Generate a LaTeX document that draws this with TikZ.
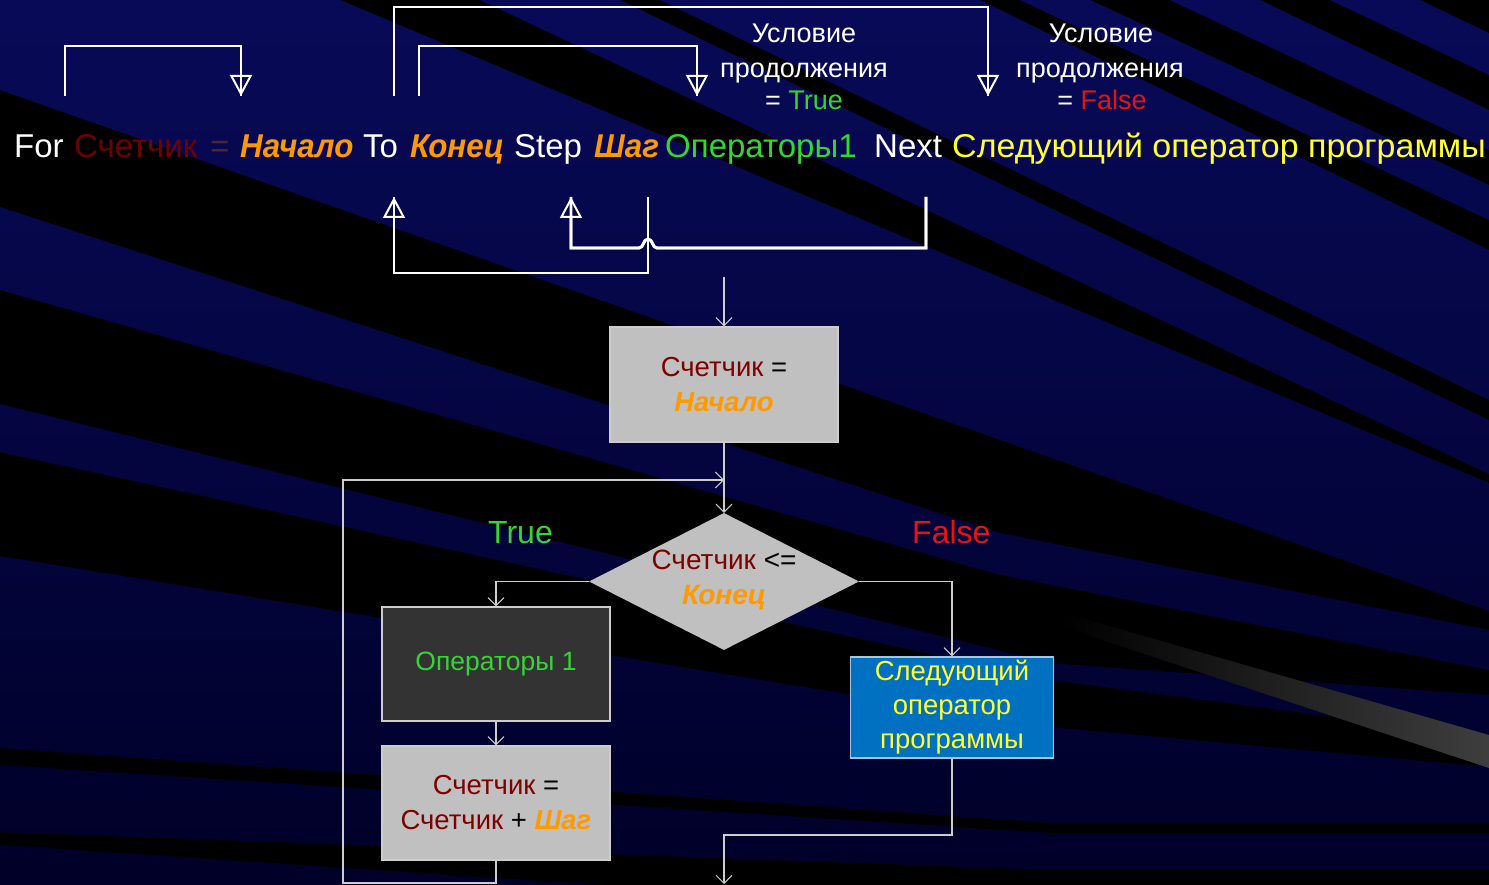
\documentclass[tikz,border=0pt]{standalone}
\usepackage{fontspec}
\setmainfont{Liberation Sans}
\usetikzlibrary{arrows.meta,shapes.geometric}
\definecolor{navyT}{RGB}{8,10,88}
\definecolor{navyB}{RGB}{0,0,40}
\definecolor{ctr}{RGB}{128,0,0}
\definecolor{ctrtop}{RGB}{112,0,0}
\definecolor{dimeq}{RGB}{80,40,40}
\definecolor{org}{RGB}{255,153,0}
\definecolor{grn}{RGB}{51,214,51}
\definecolor{ylw}{RGB}{255,255,51}
\definecolor{fls}{RGB}{228,20,20}
\definecolor{boxg}{RGB}{192,192,192}
\definecolor{boxd}{RGB}{51,51,51}
\definecolor{boxb}{RGB}{0,112,192}
\definecolor{lnc}{RGB}{205,205,205}
\definecolor{beamc}{RGB}{62,62,62}
\newcommand{\bix}[1]{\scalebox{0.95}[1]{\bfseries\itshape #1}}
\begin{document}
\begin{tikzpicture}[x=1pt,y=-1pt,
  word/.style={anchor=base west,inner sep=0pt,font=\fontsize{33}{36}\selectfont},
  lab/.style={anchor=base,inner sep=0pt,text=white,font=\fontsize{27}{30}\selectfont},
  br/.style={draw=white,line width=2.8pt,line join=miter},
  brtip/.style={-{Triangle[open,length=21pt,width=22pt,line width=2pt]}},
  fl/.style={draw=lnc,line width=1.1pt},
  fltip/.style={-{Straight Barb[length=8pt,width=16pt,line width=1pt]}},
  fbox/.style={rectangle,draw=lnc,line width=1.4pt,inner sep=0pt,align=center,
    font=\fontsize{27.5}{35}\selectfont}
]
\useasboundingbox (0,0) rectangle (1489,885);
% background
\begin{scope}
\clip (0,0) rectangle (1489,885);
\fill[black] (0,0) rectangle (1489,885);
\begin{scope}
\clip (0,0)--(340,0)--(1489,483)--(1489,611)--(0,90)--cycle
      (480,0)--(620,0)--(1489,420)--(1489,474)--cycle
      (660,0)--(980,0)--(1489,250)--(1489,400)--cycle
      (1020,0)--(1090,0)--(1489,185)--(1489,220)--cycle
      (1170,0)--(1260,0)--(1489,110)--(1489,150)--cycle
      (1330,0)--(1420,0)--(1489,33)--(1489,75)--cycle
      (0,207)--(1000,533)--(1489,630)--(1489,670)--(1000,575)--(0,290)--cycle
      (0,404)--(1050,663)--(1489,695)--(1489,737)--(1050,680)--(0,452)--cycle
      (0,556)--(1050,727)--(1489,767)--(1489,823)--(1050,823)--(0,748)--cycle
      (0,765)--(1050,833)--(1489,833)--(1489,870)--(1050,870)--(0,832)--cycle
      (0,845)--(600,885)--(0,885)--cycle;
\shade[top color=navyT,bottom color=navyB] (0,0) rectangle (1489,885);
\end{scope}
\shade[left color=black,right color=beamc] (1060,612)--(1489,735)--(1489,768)--(1060,626)--cycle;
\end{scope}

% top line of words
\node[word,text=white] (w1) at (14,158) {For};
\node[word,text=ctrtop] (w2) at (74,158) {Счетчик};
\node[word,text=dimeq] (w3) at (210,158) {=};
\node[word,text=org] (w4) at (240,158) {\bix{Начало}};
\node[word,text=white] (w5) at (363,158) {To};
\node[word,text=org] (w6) at (410,158) {\bix{Конец}};
\node[word,text=white] (w7) at (514,158) {Step};
\node[word,text=org] (w8) at (594,158) {\bix{Шаг}};
\node[word,text=grn] (w9) at (665,158) {Операторы1};
\node[word,text=white] (w10) at (874,158) {Next};
\node[word,text=ylw] (w11) at (952,158) {\scalebox{1.03}[1]{Следующий оператор программы}};

% labels
\node[lab] (l1a) at (804,43) {Условие};
\node[lab] (l1b) at (804,78) {продолжения};
\node[lab] (l1c) at (804,110) {= \textcolor{grn}{True}};
\node[lab] (l2a) at (1101,43) {Условие};
\node[lab] (l2b) at (1100,78) {продолжения};
\node[lab] (l2c) at (1102,110) {= \textcolor{fls}{False}};

% bracket coordinates
\coordinate (a1) at (65,96);  \coordinate (a2) at (241,96);
\coordinate (c1) at (394,96); \coordinate (c2) at (988,96);
\coordinate (d1) at (419,96); \coordinate (d2) at (697,96);
\coordinate (e1) at (648,197); \coordinate (e2) at (394,197);
\coordinate (f1) at (926,197); \coordinate (f2) at (571,197);

% top brackets
\draw[br] (a1) |- (241,46) -- (a2);
\draw[br,brtip] (a1) |- (241,46) -- (a2);
\draw[br] (c1) |- (988,7) -- (c2);
\draw[br,brtip] (c1) |- (988,7) -- (c2);
\draw[br] (d1) |- (697,46) -- (d2);
\draw[br,brtip] (d1) |- (697,46) -- (d2);
% bottom brackets
\draw[br] (e1) |- (394,273) -- (e2);
\draw[br,brtip] (e1) |- (394,273) -- (e2);
\draw[br] (f1) |- (657,248) .. controls (652,248) and (653,239) .. (648,239)
  .. controls (643,239) and (644,248) .. (639,248) -- (571,248) -- (f2);
\draw[br,brtip] (f1) |- (657,248) .. controls (652,248) and (653,239) .. (648,239)
  .. controls (643,239) and (644,248) .. (639,248) -- (571,248) -- (f2);

% flowchart
\node[fbox,fill=boxg,minimum width=228pt,minimum height=115pt] (box1) at (724,384.5)
  {\textcolor{ctr}{Счетчик} =\\ \textcolor{org}{\bfseries\itshape Начало}};
\node[diamond,fill=boxg,inner sep=0pt,minimum width=270pt,minimum height=137pt,aspect=1.97] (dia) at (724,581.5) {};
\node[inner sep=0pt,align=center,font=\fontsize{28}{35}\selectfont] (diat) at (724,580.5)
  {\textcolor{ctr}{Счетчик} <=\\ \textcolor{org}{\bfseries\itshape Конец}};
\node[fbox,fill=boxd,minimum width=228pt,minimum height=114pt,font=\fontsize{26.5}{35}\selectfont] (ops) at (496,664)
  {\textcolor{grn}{Операторы 1}};
\node[fbox,fill=boxg,minimum width=228pt,minimum height=114pt] (box2) at (496,803)
  {\textcolor{ctr}{Счетчик} =\\ \textcolor{ctr}{Счетчик} + \textcolor{org}{\bfseries\itshape Шаг}};
\node[fbox,fill=boxb,draw={rgb,255:red,160;green,200;blue,230},minimum width=203pt,minimum height=101pt,
  font=\fontsize{27.5}{34}\selectfont] (nxt) at (952,707.5)
  {\textcolor{ylw}{Следующий}\\ \textcolor{ylw}{оператор}\\ \textcolor{ylw}{программы}};

\node[anchor=base west,inner sep=0pt,text=grn,font=\fontsize{32}{36}\selectfont] (tl) at (488,543) {True};
\node[anchor=base west,inner sep=0pt,text=fls,font=\fontsize{32}{36}\selectfont] (fl) at (912,543) {False};

\coordinate (entry) at (724,277);
\coordinate (lb) at (343,883);
\coordinate (lj) at (724,480);
\coordinate (xm) at (724,835);
\coordinate (xe) at (724,884);

\draw[fl,fltip] (entry) -- (box1.north);
\draw[fl,fltip] (box1.south) -- (dia.north);
\draw[fl,fltip] (box2.south) |- (lb) |- (lj);
\draw[fl,fltip] (dia.west) -| (ops.north);
\draw[fl,fltip] (ops.south) -- (box2.north);
\draw[fl,fltip] (dia.east) -| (nxt.north);
\draw[fl,fltip] (nxt.south) |- (xm) -- (xe);
\end{tikzpicture}
\end{document}
